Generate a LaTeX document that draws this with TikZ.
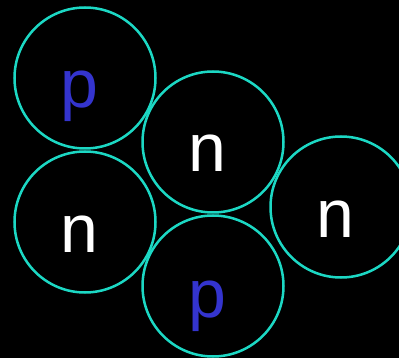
\documentclass[tikz,border=0pt]{standalone}
\usepackage{fontspec}
\setmainfont{Liberation Sans}
\definecolor{ring}{RGB}{28,216,196}
\definecolor{pblue}{RGB}{52,52,206}
\tikzset{
  nuc/.style={circle,draw=ring,line width=2.5pt,minimum size=141pt,inner sep=0pt},
  lbl/.style={anchor=base,inner sep=0pt,font=\fontsize{68}{68}\selectfont},
  plbl/.style={lbl,text=pblue},
  nlbl/.style={lbl,text=white}
}
\begin{document}
\begin{tikzpicture}[x=1pt,y=-1pt]
\fill[black] (0,0) rectangle (399,358);
\useasboundingbox (0,0) rectangle (399,358);
\node[nuc] (c1) at (85,78) {};
\node[nuc] (c2) at (213,142) {};
\node[nuc] (c3) at (85,222) {};
\node[nuc] (c4) at (341,207) {};
\node[nuc] (c5) at (213,286) {};
\node[plbl] (t1) at (79,108) {p};
\node[nlbl] (t2) at (207.5,172) {n};
\node[nlbl] (t3) at (79,252) {n};
\node[nlbl] (t4) at (335,237) {n};
\node[plbl] (t5) at (207.5,317) {p};
\end{tikzpicture}
\end{document}
